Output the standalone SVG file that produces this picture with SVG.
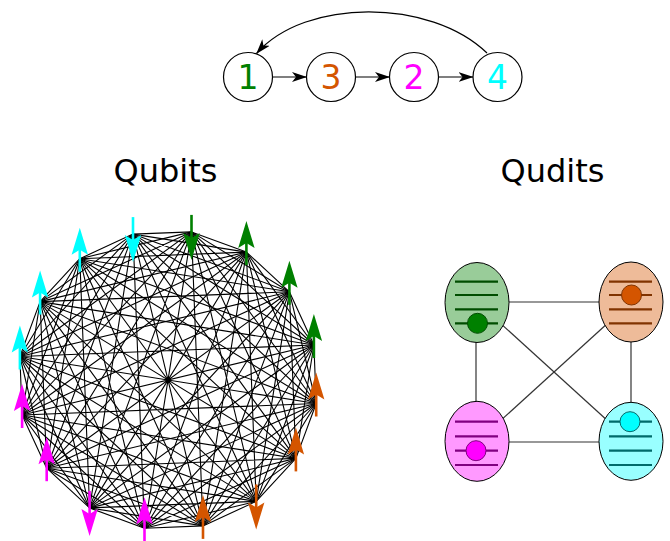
<svg xmlns="http://www.w3.org/2000/svg" xmlns:xlink="http://www.w3.org/1999/xlink" width="670" height="541" viewBox="0 0 670 541">
<style>
text{font-family:"DejaVu Sans","Liberation Sans",sans-serif;}
.num{font-size:33px;text-anchor:middle;}
.title{font-size:32px;text-anchor:middle;fill:#000;}
.node{fill:#fff;stroke:#000;stroke-width:1.2;}
.chain{fill:none;stroke:#000;stroke-width:1.2;marker-end:url(#arr);}
.edges{fill:none;stroke:#000;stroke-width:1.1;stroke-linejoin:round;}
.sp line{stroke-width:2.6;}
.g{fill:#008000;stroke:#008000;}
.o{fill:#d45500;stroke:#d45500;}
.m{fill:#ff00ff;stroke:#ff00ff;}
.c{fill:#00ffff;stroke:#00ffff;}
.link{stroke:#333;stroke-width:1.2;fill:none;}
.ell{stroke:#000;stroke-width:1;}
.lv{stroke-width:2.2;}
.ball{stroke-width:1;}
</style>
<defs>
<marker id="arr" viewBox="0 0 15 10" refX="14.5" refY="5" markerWidth="15" markerHeight="10" markerUnits="userSpaceOnUse" orient="auto">
<path d="M0,0 L15,5 L0,10 L4,5 Z" fill="#000"/>
</marker>
<path id="ah" d="M0,0 L8.2,27 L0,22 L-8.2,27 Z" stroke="none"/>
</defs>

<!-- top chain -->
<g id="chain-connectors">
<path class="chain" d="M272.5,77 L306.5,77"/>
<path class="chain" d="M355.5,77 L389.5,77"/>
<path class="chain" d="M438.5,77 L473,77"/>
<path class="chain" d="M487,53 C430,-2 305,-2 256.5,53.5"/>
</g>
<g id="n1"><circle class="node" cx="248" cy="77" r="24.5"/><text class="num" x="248" y="89" fill="#008000">1</text></g>
<g id="n3"><circle class="node" cx="331" cy="77" r="24.5"/><text class="num" x="331" y="89" fill="#d45500">3</text></g>
<g id="n2"><circle class="node" cx="414" cy="77" r="24.5"/><text class="num" x="414" y="89" fill="#ff00ff">2</text></g>
<g id="n4"><circle class="node" cx="497.5" cy="77" r="24.5"/><text class="num" x="497.5" y="89" fill="#00ffff">4</text></g>

<text class="title" x="165.5" y="182">Qubits</text>
<text class="title" x="552.5" y="182">Qudits</text>

<!-- complete graph of qubits -->
<g id="qubit-connectors" class="edges">
<path d="M191.5,231.9 L246.4,252.1 L289.4,291.8 L313.9,345.0 L316.2,403.5 L295.9,458.4 L256.2,501.4 L203.0,525.9 L144.5,528.2 L89.6,507.9 L46.7,468.2 L22.1,415.0 L19.9,356.5 L40.1,301.6 L79.8,258.7 L133.0,234.1 Z"/>
<path d="M191.5,231.9 L289.4,291.8 L316.2,403.5 L256.2,501.4 L144.5,528.2 L46.7,468.2 L19.9,356.5 L79.8,258.7 Z"/>
<path d="M246.4,252.1 L313.9,345.0 L295.9,458.4 L203.0,525.9 L89.6,507.9 L22.1,415.0 L40.1,301.6 L133.0,234.1 Z"/>
<path d="M191.5,231.9 L313.9,345.0 L256.2,501.4 L89.6,507.9 L19.9,356.5 L133.0,234.1 L289.4,291.8 L295.9,458.4 L144.5,528.2 L22.1,415.0 L79.8,258.7 L246.4,252.1 L316.2,403.5 L203.0,525.9 L46.7,468.2 L40.1,301.6 Z"/>
<path d="M191.5,231.9 L316.2,403.5 L144.5,528.2 L19.9,356.5 Z"/>
<path d="M246.4,252.1 L295.9,458.4 L89.6,507.9 L40.1,301.6 Z"/>
<path d="M289.4,291.8 L256.2,501.4 L46.7,468.2 L79.8,258.7 Z"/>
<path d="M313.9,345.0 L203.0,525.9 L22.1,415.0 L133.0,234.1 Z"/>
<path d="M191.5,231.9 L295.9,458.4 L46.7,468.2 L133.0,234.1 L316.2,403.5 L89.6,507.9 L79.8,258.7 L313.9,345.0 L144.5,528.2 L40.1,301.6 L289.4,291.8 L203.0,525.9 L19.9,356.5 L246.4,252.1 L256.2,501.4 L22.1,415.0 Z"/>
<path d="M191.5,231.9 L256.2,501.4 L19.9,356.5 L289.4,291.8 L144.5,528.2 L79.8,258.7 L316.2,403.5 L46.7,468.2 Z"/>
<path d="M246.4,252.1 L203.0,525.9 L40.1,301.6 L313.9,345.0 L89.6,507.9 L133.0,234.1 L295.9,458.4 L22.1,415.0 Z"/>
<path d="M191.5,231.9 L203.0,525.9 L79.8,258.7 L295.9,458.4 L19.9,356.5 L313.9,345.0 L46.7,468.2 L246.4,252.1 L144.5,528.2 L133.0,234.1 L256.2,501.4 L40.1,301.6 L316.2,403.5 L22.1,415.0 L289.4,291.8 L89.6,507.9 Z"/>
<path d="M191.5,231.9 L144.5,528.2 M246.4,252.1 L89.6,507.9 M289.4,291.8 L46.7,468.2 M313.9,345.0 L22.1,415.0 M316.2,403.5 L19.9,356.5 M295.9,458.4 L40.1,301.6 M256.2,501.4 L79.8,258.7 M203.0,525.9 L133.0,234.1"/>
</g>

<!-- spins -->
<g id="q0" class="sp g"><line x1="191.5" y1="214.9" x2="191.5" y2="241.9"/><use xlink:href="#ah" transform="translate(191.5,259.9) rotate(180)"/></g>
<g id="q1" class="sp g"><line x1="246.4" y1="265.1" x2="246.4" y2="238.1"/><use xlink:href="#ah" transform="translate(246.4,221.1)"/></g>
<g id="q2" class="sp g"><line x1="289.4" y1="304.8" x2="289.4" y2="277.8"/><use xlink:href="#ah" transform="translate(289.4,260.8)"/></g>
<g id="q3" class="sp g"><line x1="313.9" y1="358.0" x2="313.9" y2="331.0"/><use xlink:href="#ah" transform="translate(313.9,314.0)"/></g>
<g id="q4" class="sp o"><line x1="316.2" y1="416.5" x2="316.2" y2="389.5"/><use xlink:href="#ah" transform="translate(316.2,372.5)"/></g>
<g id="q5" class="sp o"><line x1="295.9" y1="471.4" x2="295.9" y2="444.4"/><use xlink:href="#ah" transform="translate(295.9,427.4)"/></g>
<g id="q6" class="sp o"><line x1="256.2" y1="484.4" x2="256.2" y2="511.4"/><use xlink:href="#ah" transform="translate(256.2,529.4) rotate(180)"/></g>
<g id="q7" class="sp o"><line x1="203.0" y1="538.9" x2="203.0" y2="511.9"/><use xlink:href="#ah" transform="translate(203.0,494.9)"/></g>
<g id="q8" class="sp m"><line x1="144.5" y1="541.2" x2="144.5" y2="514.2"/><use xlink:href="#ah" transform="translate(144.5,497.2)"/></g>
<g id="q9" class="sp m"><line x1="89.6" y1="490.9" x2="89.6" y2="517.9"/><use xlink:href="#ah" transform="translate(89.6,535.9) rotate(180)"/></g>
<g id="q10" class="sp m"><line x1="46.7" y1="481.2" x2="46.7" y2="454.2"/><use xlink:href="#ah" transform="translate(46.7,437.2)"/></g>
<g id="q11" class="sp m"><line x1="22.1" y1="428.0" x2="22.1" y2="401.0"/><use xlink:href="#ah" transform="translate(22.1,384.0)"/></g>
<g id="q12" class="sp c"><line x1="19.9" y1="369.5" x2="19.9" y2="342.5"/><use xlink:href="#ah" transform="translate(19.9,325.5)"/></g>
<g id="q13" class="sp c"><line x1="40.1" y1="314.6" x2="40.1" y2="287.6"/><use xlink:href="#ah" transform="translate(40.1,270.6)"/></g>
<g id="q14" class="sp c"><line x1="79.8" y1="271.7" x2="79.8" y2="244.7"/><use xlink:href="#ah" transform="translate(79.8,227.7)"/></g>
<g id="q15" class="sp c"><line x1="133.0" y1="217.1" x2="133.0" y2="244.1"/><use xlink:href="#ah" transform="translate(133.0,262.1) rotate(180)"/></g>

<!-- qudits -->
<g id="qudit-connectors" class="link">
<line x1="477" y1="302" x2="631" y2="302"/>
<line x1="476" y1="302" x2="476" y2="442"/>
<line x1="631" y1="302" x2="631" y2="442"/>
<line x1="477" y1="442" x2="631" y2="442"/>
<line x1="477" y1="302" x2="631" y2="442"/>
<line x1="631" y1="302" x2="477" y2="442"/>
</g>
<g id="qd-green">
<ellipse class="ell" cx="477" cy="302.5" rx="32" ry="40" fill="#99cc99"/>
<g class="lv" stroke="#004d00"><line x1="455" y1="281.7" x2="498" y2="281.7"/><line x1="455" y1="295" x2="498" y2="295"/><line x1="455" y1="309.3" x2="498" y2="309.3"/><line x1="455" y1="323.3" x2="498" y2="323.3"/></g>
<circle class="ball" cx="477.5" cy="323.3" r="10" fill="#008000" stroke="#004d00"/>
</g>
<g id="qd-orange">
<ellipse class="ell" cx="631" cy="302" rx="32" ry="40" fill="#eebb99"/>
<g class="lv" stroke="#803300"><line x1="609" y1="281.7" x2="652" y2="281.7"/><line x1="609" y1="295" x2="652" y2="295"/><line x1="609" y1="309.3" x2="652" y2="309.3"/><line x1="609" y1="323.3" x2="652" y2="323.3"/></g>
<circle class="ball" cx="631.5" cy="295" r="10" fill="#d45500" stroke="#803300"/>
</g>
<g id="qd-magenta">
<ellipse class="ell" cx="477" cy="441.3" rx="32" ry="40" fill="#ff99ff"/>
<g class="lv" stroke="#800080"><line x1="455" y1="421.7" x2="498" y2="421.7"/><line x1="455" y1="436.3" x2="498" y2="436.3"/><line x1="455" y1="450.7" x2="498" y2="450.7"/><line x1="455" y1="465" x2="498" y2="465"/></g>
<circle class="ball" cx="476" cy="450.7" r="10" fill="#ff00ff" stroke="#800080"/>
</g>
<g id="qd-cyan">
<ellipse class="ell" cx="631" cy="441.3" rx="32" ry="39" fill="#99ffff"/>
<g class="lv" stroke="#006a6a"><line x1="609" y1="421.7" x2="652" y2="421.7"/><line x1="609" y1="436.3" x2="652" y2="436.3"/><line x1="609" y1="450.7" x2="652" y2="450.7"/><line x1="609" y1="465" x2="652" y2="465"/></g>
<circle class="ball" cx="630" cy="421.7" r="10" fill="#00ffff" stroke="#006a6a"/>
</g>
</svg>
